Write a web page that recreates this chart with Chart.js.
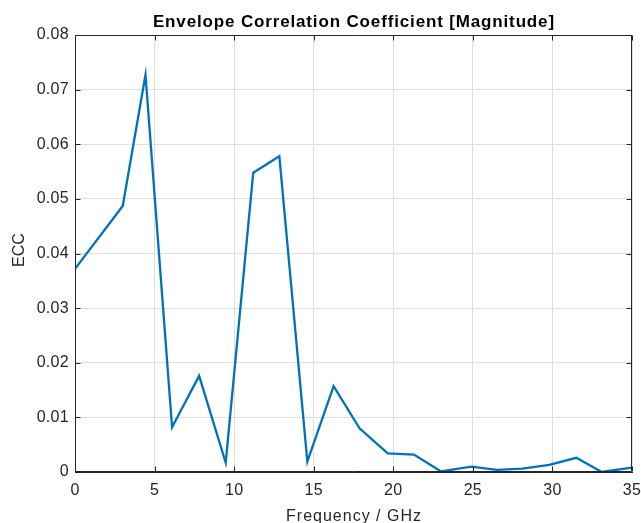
<!DOCTYPE html>
<html>
<head>
<meta charset="utf-8">
<script src="https://cdn.jsdelivr.net/npm/chart.js@4/dist/chart.umd.min.js"></script>
<style>
  html, body { margin: 0; padding: 0; background: #ffffff; }
  canvas { display: block; }
</style>
</head>
<body>
<canvas id="eccChart" width="641" height="523"></canvas>
<script>
const freqGHz = [0, 3.0, 4.43, 6.1, 7.8, 9.47, 11.2, 12.84, 14.6, 16.25, 17.88,
  19.65, 21.3, 23.0, 24.9, 26.5, 28.1, 29.8, 31.5, 33.1, 35];
const eccValues = [0.0372, 0.0487, 0.0727, 0.0082, 0.0176, 0.0017, 0.0548, 0.0578,
  0.0019, 0.0157, 0.0080, 0.0034, 0.0032, 0.0001, 0.0010, 0.0004, 0.0006, 0.0013,
  0.0026, 0.0000, 0.0008];
const xTicks = [0, 5, 10, 15, 20, 25, 30, 35];
const yTicks = [0, 0.01, 0.02, 0.03, 0.04, 0.05, 0.06, 0.07, 0.08];

const chartTitle = 'Envelope Correlation Coefficient [Magnitude]';
const xLabel = 'Frequency / GHz';
const yLabel = 'ECC';

const FONT = '"Liberation Sans", Arial, Helvetica, sans-serif';
const AXIS_COLOR = '#262626';
const GRID_COLOR = '#dfdfdf';
const TICK_LEN = 5;

// spaced-out text, centred on x (letterSpacing also pads the last glyph)
const spacedText = (ctx, text, x, y, font, spacing, color, angle = 0) => {
  ctx.save();
  ctx.font = font;
  ctx.fillStyle = color;
  ctx.letterSpacing = spacing + 'px';
  ctx.textAlign = 'center';
  ctx.textBaseline = 'alphabetic';
  ctx.translate(x, y);
  ctx.rotate(angle);
  ctx.fillText(text, spacing / 2, 0);
  ctx.restore();
};

// box around the axes with inward ticks, plus title and axis labels
const frameTicks = {
  id: 'frameTicks',
  beforeDraw(chart) {
    chart.ctx.letterSpacing = '0.3px';
  },
  afterDraw(chart) {
    const { ctx, chartArea: a, scales: { x, y } } = chart;
    ctx.save();
    ctx.letterSpacing = '0px';
    ctx.strokeStyle = AXIS_COLOR;
    ctx.lineWidth = 1;
    ctx.beginPath();
    const L = Math.round(a.left) + 0.5;
    const R = Math.round(a.right) - 0.5;
    const T = Math.round(a.top) + 0.5;
    const B = Math.round(a.bottom) - 0.5;
    ctx.moveTo(L, T); ctx.lineTo(R, T); ctx.lineTo(R, B); ctx.lineTo(L, B); ctx.closePath();
    xTicks.forEach((v) => {
      const px = Math.round(x.getPixelForValue(v)) + 0.5;
      ctx.moveTo(px, B); ctx.lineTo(px, B - TICK_LEN);
      ctx.moveTo(px, T); ctx.lineTo(px, T + TICK_LEN);
    });
    yTicks.forEach((v) => {
      const py = Math.round(y.getPixelForValue(v)) + 0.5;
      ctx.moveTo(L, py); ctx.lineTo(L + TICK_LEN, py);
      ctx.moveTo(R, py); ctx.lineTo(R - TICK_LEN, py);
    });
    ctx.stroke();
    ctx.restore();

    const midX = (a.left + a.right) / 2;
    spacedText(ctx, chartTitle, midX, 27, `bold 17px ${FONT}`, 0.85, '#000000');
    spacedText(ctx, xLabel, midX, 521, `16px ${FONT}`, 1.0, AXIS_COLOR);
    spacedText(ctx, yLabel, 24, 250, `16px ${FONT}`, 0, AXIS_COLOR, -Math.PI / 2);
  },
};

const ctx = document.getElementById('eccChart').getContext('2d');
const eccChart = new Chart(ctx, {
  type: 'scatter',
  data: {
    datasets: [
      {
        label: 'ECC',
        data: freqGHz.map((f, i) => ({ x: f, y: eccValues[i] })),
        showLine: true,
        borderColor: '#0072BD',
        borderWidth: 2.3,
        pointRadius: 0,
        tension: 0,
        fill: false,
      },
    ],
  },
  options: {
    responsive: false,
    animation: false,
    layout: {
      padding: { top: 35, right: 9, left: 0, bottom: 0 },
    },
    plugins: {
      legend: { display: false },
      tooltip: { enabled: false },
      title: { display: false },
    },
    scales: {
      x: {
        type: 'linear',
        min: 0,
        max: 35,
        afterFit: (scale) => {
          scale.height = 51;
          scale.paddingLeft = 0;
          scale.paddingRight = 0;
        },
        afterBuildTicks: (scale) => { scale.ticks = xTicks.map((v) => ({ value: v })); },
        ticks: {
          color: AXIS_COLOR,
          font: { family: FONT, size: 16 },
          padding: 9,
          maxRotation: 0,
        },
        grid: { color: GRID_COLOR, drawTicks: false },
        border: { display: true, color: AXIS_COLOR },
      },
      y: {
        type: 'linear',
        min: 0,
        max: 0.08,
        afterFit: (scale) => {
          scale.width = 75;
          scale.paddingTop = 0;
          scale.paddingBottom = 0;
        },
        afterBuildTicks: (scale) => { scale.ticks = yTicks.map((v) => ({ value: v })); },
        ticks: {
          color: AXIS_COLOR,
          font: { family: FONT, size: 16 },
          padding: 6,
          callback: (v) => String(+v.toFixed(2)),
        },
        grid: { color: GRID_COLOR, drawTicks: false },
        border: { display: true, color: AXIS_COLOR },
      },
    },
  },
  plugins: [frameTicks],
});
</script>
</body>
</html>
